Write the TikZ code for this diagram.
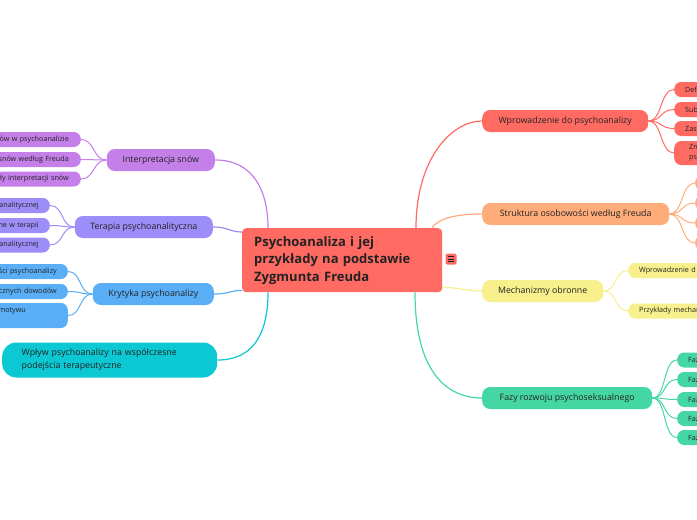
\documentclass[tikz,border=0pt]{standalone}
\usepackage{fontspec}
\setmainfont{Open Sans}
\usetikzlibrary{backgrounds}
\definecolor{cRed}{HTML}{FF6B62}
\definecolor{cOrange}{HTML}{FFAC7B}
\definecolor{cYellow}{HTML}{F8F08C}
\definecolor{cGreen}{HTML}{45D7A3}
\definecolor{cPurple}{HTML}{C57FE8}
\definecolor{cLav}{HTML}{9C8DF8}
\definecolor{cBlue}{HTML}{5AAEF5}
\definecolor{cCyan}{HTML}{0BC8D2}
\definecolor{textc}{HTML}{222222}
\begin{document}
\begin{tikzpicture}[x=1pt,y=-1pt,
  mainbox/.style={rounded corners=8pt, inner sep=0pt, font=\fontsize{8.8}{13}\selectfont, text=textc, minimum height=22},
  subR/.style={rounded corners=7pt, inner ysep=0pt, inner xsep=11pt, font=\fontsize{7.2}{10}\selectfont, text=textc, anchor=west, text width=40, align=left, minimum height=15},
  subL/.style={rounded corners=7pt, inner ysep=0pt, font=\fontsize{7.2}{10}\selectfont, text=textc, anchor=east, text width=100, align=right, minimum height=15},
  link/.style={line width=1.2pt},
  sublink/.style={line width=1pt}
]
\useasboundingbox (0,0) rectangle (697,520);
\clip (0,0) rectangle (697,520);

% central
\node[fill=cRed, rounded corners=4pt, anchor=north west, minimum width=200, minimum height=64,
  text width=176, inner xsep=12pt, inner ysep=0pt, align=left, text=textc,
  font=\bfseries\fontsize{13}{17.5}\selectfont] (c) at (242,228)
  {Psychoanaliza i jej\\przykłady na podstawie\\Zygmunta Freuda};
\node[fill=cRed, rounded corners=1.5pt, minimum size=11, inner sep=0pt] (ic) at (451,259) {};
\foreach \d in {-2.5,0,2.5} \draw[textc, line width=0.8pt] (ic.center) ++(-3,\d) -- ++(6,0);

% right main branches
\node[mainbox, anchor=west, fill=cRed, minimum width=166] (wp) at (482,121) {Wprowadzenie do psychoanalizy};
\node[mainbox, anchor=west, fill=cOrange, minimum width=187] (st) at (482,214) {Struktura osobowości według Freuda};
\node[mainbox, anchor=west, fill=cYellow, minimum width=121] (me) at (482,291) {Mechanizmy obronne};
\node[mainbox, anchor=west, fill=cGreen, minimum width=170] (fa) at (482,398) {Fazy rozwoju psychoseksualnego};

% left main branches
\node[mainbox, anchor=east, fill=cPurple, minimum width=108] (in) at (215,160) {Interpretacja snów};
\node[mainbox, anchor=east, fill=cLav, minimum width=138] (te) at (213,227) {Terapia psychoanalityczna};
\node[mainbox, anchor=east, fill=cBlue, minimum width=121] (kr) at (214,294) {Krytyka psychoanalizy};
\node[mainbox, anchor=west, fill=cCyan, rounded corners=14pt, minimum height=35, text width=176, inner xsep=19.5pt, align=left] (wpl) at (2,360)
  {Wpływ psychoanalizy na współczesne\\podejścia terapeutyczne};

% right sub nodes
\node[subR, fill=cRed] (wp1) at (674,89.5) {Def};
\node[subR, fill=cRed] (wp2) at (674,109.5) {Sub};
\node[subR, fill=cRed] (wp3) at (674,128.5) {Zas};
\node[subR, fill=cRed, minimum height=24, inner xsep=15pt] (wp4) at (674,153) {Zn\\ps};

\node[subR, fill=cOrange] (st1) at (695,183) {};
\node[subR, fill=cOrange] (st2) at (695,203) {};
\node[subR, fill=cOrange] (st3) at (695,223) {};
\node[subR, fill=cOrange] (st4) at (695,243) {};

\node[subR, fill=cYellow, text width=70] (me1) at (628,270.5) {Wprowadzenie d};
\node[subR, fill=cYellow, text width=70] (me2) at (628,311) {Przykłady mechan};

\node[subR, fill=cGreen] (fa1) at (677,360) {Faz};
\node[subR, fill=cGreen] (fa2) at (677,379.5) {Faz};
\node[subR, fill=cGreen] (fa3) at (677,399.5) {Faz};
\node[subR, fill=cGreen] (fa4) at (677,418.5) {Faz};
\node[subR, fill=cGreen] (fa5) at (677,437.5) {Faz};

% left sub nodes
\node[subL, fill=cPurple, inner xsep=12pt] (in1) at (81,139.5) {ów w psychoanalizie};
\node[subL, fill=cPurple, inner xsep=12pt] (in2) at (81,159.5) {snów według Freuda};
\node[subL, fill=cPurple, inner xsep=12pt] (in3) at (81,179) {dy interpretacji snów};

\node[subL, fill=cLav, inner xsep=11pt] (te1) at (50,205.5) {analitycznej};
\node[subL, fill=cLav, inner xsep=11pt] (te2) at (50,225.5) {ne w terapii};
\node[subL, fill=cLav, inner xsep=11pt] (te3) at (50,245) {analitycznej};

\node[subL, fill=cBlue, inner xsep=11pt] (kr1) at (68,271.5) {ści psychoanalizy};
\node[subL, fill=cBlue, inner xsep=11pt] (kr2) at (68,291.5) {cznych dowodów};
\node[subL, fill=cBlue, inner xsep=42pt, minimum height=25] (kr3) at (68,315.5) {motywu\\\mbox{}};

\begin{pgfonlayer}{background}
% central links
\draw[link, cRed] ([xshift=174pt]c.north west) .. controls +(0,-70) and +(-30,0) .. (wp.west);
\draw[link, cOrange] ([xshift=190pt]c.north west) .. controls +(8,-12) and +(-18,0) .. (st.west);
\draw[link, cYellow] ([yshift=5pt]c.south east) .. controls +(15,0) and +(-15,0) .. (me.west);
\draw[link, cGreen] ([xshift=173pt]c.south west) .. controls +(0,80) and +(-35,0) .. (fa.west);
\draw[link, cPurple] (in.east) .. controls +(40,0) and +(0,-35) .. ([xshift=26pt]c.north west);
\draw[link, cLav] (te.east) .. controls +(15,0) and +(-12,0) .. ([yshift=-4pt]c.north west);
\draw[link, cBlue] (kr.east) .. controls +(15,0) and +(-12,0) .. ([yshift=2pt]c.south west);
\draw[link, cCyan] (wpl.east) .. controls +(40,0) and +(0,35) .. ([xshift=26pt]c.south west);
% sub links right
\foreach \n in {wp1,wp2,wp3,wp4} \draw[sublink, cRed] (wp.east) .. controls +(14,0) and +(-14,0) .. (\n.west);
\foreach \n in {st1,st2,st3,st4} \draw[sublink, cOrange] (st.east) .. controls +(14,0) and +(-14,0) .. (\n.west);
\foreach \n in {me1,me2} \draw[sublink, cYellow] (me.east) .. controls +(14,0) and +(-14,0) .. (\n.west);
\foreach \n in {fa1,fa2,fa3,fa4,fa5} \draw[sublink, cGreen] (fa.east) .. controls +(14,0) and +(-14,0) .. (\n.west);
% sub links left
\foreach \n in {in1,in2,in3} \draw[sublink, cPurple] (in.west) .. controls +(-14,0) and +(14,0) .. (\n.east);
\foreach \n in {te1,te2,te3} \draw[sublink, cLav] (te.west) .. controls +(-14,0) and +(14,0) .. (\n.east);
\foreach \n in {kr1,kr2,kr3} \draw[sublink, cBlue] (kr.west) .. controls +(-14,0) and +(14,0) .. (\n.east);
\end{pgfonlayer}
\end{tikzpicture}
\end{document}
